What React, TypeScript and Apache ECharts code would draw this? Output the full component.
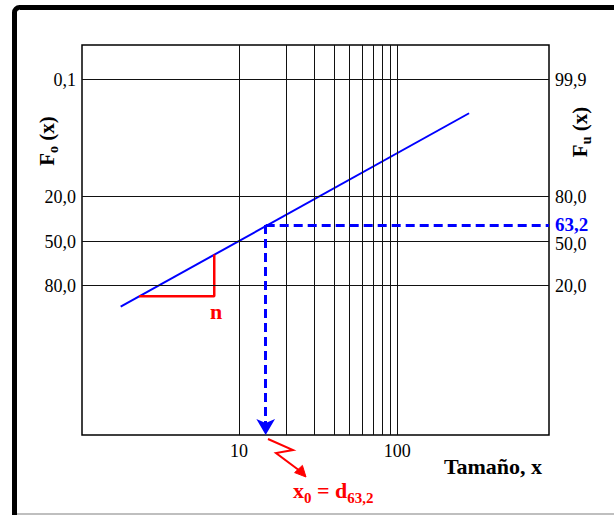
import React, { useEffect, useRef } from 'react';
import * as echarts from 'echarts';

// ---- data ----
const xMin = 1.02;
const xMax = 908;
const xGridValues = [10, 20, 30, 40, 50, 60, 70, 80, 90, 100];
const xTickLabels = [10, 100];

// vertical scale positions (schematic Rosin-Rammler scale, 0 = bottom, 100 = top)
const yLevels = [91.15, 61.1, 49.6, 38.3];
const foLabels = ['0,1', '20,0', '50,0', '80,0'];
const fuLabels = ['99,9', '80,0', '50,0', '20,0'];
const fuMarkPos = 53.85;
const fuMarkLabel = '63,2';

// fitted straight line
const fitLineX = [1.79, 284];
const fitLineY = [32.9, 82.5];

// slope triangle (n)
const slopeX = [2.34, 6.98, 6.98];
const slopeY = [35.6, 35.6, 46.3];

// characteristic size x0 = d63,2
const x0 = 14.75;

const FONT = 'Liberation Serif';
const RED = '#ff0000';
const BLUE = '#0000ff';

function labelFor(v: number, levels: number[], labels: string[]) {
  for (let i = 0; i < levels.length; i++) {
    if (Math.abs(levels[i] - v) < 0.01) return labels[i];
  }
  return '';
}

export default function App() {
  const ref = useRef<HTMLDivElement>(null);
  useEffect(() => {
    const chart = echarts.init(ref.current!, null, { renderer: 'svg' });
    const option: any = {
      animation: false,
      textStyle: { fontFamily: FONT },
      grid: {
        left: 82,
        top: 45,
        right: 65,
        bottom: 80,
        show: true,
        borderColor: '#000',
        borderWidth: 1.5,
        backgroundColor: 'transparent',
        containLabel: false,
      },
      xAxis: {
        type: 'log',
        logBase: 10,
        min: xMin,
        max: xMax,
        axisLine: { show: false },
        axisTick: { show: false },
        splitLine: { show: false },
        axisLabel: {
          customValues: xTickLabels,
          formatter: (v: number) => String(Math.round(v)),
          fontFamily: FONT,
          fontSize: 18,
          color: '#000',
          margin: 7,
        },
      },
      yAxis: [
        {
          type: 'value',
          min: 0,
          max: 100,
          position: 'left',
          axisLine: { show: false },
          axisTick: { show: false },
          splitLine: { show: false },
          axisLabel: {
            customValues: yLevels,
            formatter: (v: number) => labelFor(v, yLevels, foLabels),
            fontFamily: FONT,
            fontSize: 18,
            color: '#000',
            margin: 6,
          },
        },
        {
          type: 'value',
          min: 0,
          max: 100,
          position: 'right',
          axisLine: { show: false },
          axisTick: { show: false },
          splitLine: { show: false },
          axisLabel: {
            customValues: [...yLevels, fuMarkPos],
            formatter: (v: number) => {
              if (Math.abs(v - fuMarkPos) < 0.01) return '{b|' + fuMarkLabel + '}';
              const s = labelFor(v, yLevels, fuLabels);
              if (s === '50,0') return '{d|' + s + '}';
              return s;
            },
            fontFamily: FONT,
            fontSize: 18,
            color: '#000',
            margin: 6,
            rich: {
              b: { color: BLUE, fontWeight: 'bold', fontSize: 19, fontFamily: FONT },
              d: { color: '#000', fontSize: 18, fontFamily: FONT, padding: [4, 0, 0, 0] },
            },
          },
        },
      ],
      series: [
        {
          type: 'line',
          name: 'grid',
          data: [],
          z: 1,
          silent: true,
          markLine: {
            silent: true,
            symbol: ['none', 'none'],
            label: { show: false },
            lineStyle: { color: '#111', width: 1, type: 'solid' },
            emphasis: { disabled: true },
            data: [
              ...xGridValues.map((v) => ({ xAxis: v })),
              ...yLevels.map((v) => ({ yAxis: v })),
            ],
          },
        },
        {
          type: 'line',
          name: 'fit',
          z: 3,
          silent: true,
          showSymbol: false,
          symbol: 'none',
          lineStyle: { color: BLUE, width: 2 },
          data: fitLineX.map((x, i) => [x, fitLineY[i]]),
        },
        {
          type: 'line',
          name: 'slope',
          z: 3,
          silent: true,
          showSymbol: false,
          symbol: 'none',
          lineStyle: { color: RED, width: 2.5 },
          data: slopeX.map((x, i) => [x, slopeY[i]]),
        },
        {
          type: 'line',
          name: 'x0',
          data: [],
          z: 4,
          silent: true,
          markLine: {
            silent: true,
            label: { show: false },
            emphasis: { disabled: true },
            lineStyle: { color: BLUE, width: 3, type: [9, 5] },
            data: [
              [
                { coord: [x0, fuMarkPos], symbol: 'none' },
                { coord: [xMax, fuMarkPos], symbol: 'none' },
              ],
              [
                { coord: [x0, fuMarkPos], symbol: 'none' },
                { coord: [x0, 0], symbol: 'arrow', symbolSize: [14, 16] },
              ],
            ],
          },
        },
      ],
      graphic: [
        {
          type: 'rect',
          silent: true,
          z: 100,
          shape: { x: 14.5, y: 7.5, width: 700, height: 600, r: 5 },
          style: { fill: 'none', stroke: '#000', lineWidth: 5 },
        },
        {
          type: 'line',
          silent: true,
          shape: { x1: 17, y1: 514, x2: 614, y2: 514 },
          style: { stroke: '#aaa', lineWidth: 1.5 },
        },
        {
          type: 'text',
          silent: true,
          x: 47,
          y: 141,
          rotation: Math.PI / 2,
          style: {
            text: '{m|F}{s|o}{m| (x)}',
            align: 'center',
            verticalAlign: 'middle',
            rich: {
              m: { fontFamily: FONT, fontWeight: 'bold', fontSize: 21, fill: '#000', lineHeight: 26, verticalAlign: 'middle' },
              s: { fontFamily: FONT, fontWeight: 'bold', fontSize: 14, fill: '#000', lineHeight: 14, verticalAlign: 'bottom' },
            },
          },
        },
        {
          type: 'text',
          silent: true,
          x: 580,
          y: 132,
          rotation: Math.PI / 2,
          style: {
            text: '{m|F}{s|u}{m| (x)}',
            align: 'center',
            verticalAlign: 'middle',
            rich: {
              m: { fontFamily: FONT, fontWeight: 'bold', fontSize: 21, fill: '#000', lineHeight: 26, verticalAlign: 'middle' },
              s: { fontFamily: FONT, fontWeight: 'bold', fontSize: 14, fill: '#000', lineHeight: 14, verticalAlign: 'bottom' },
            },
          },
        },
        {
          type: 'text',
          silent: true,
          x: 493,
          y: 466,
          style: {
            text: 'Tamaño, x',
            align: 'center',
            verticalAlign: 'middle',
            fontFamily: FONT,
            fontWeight: 'bold',
            fontSize: 22,
            fill: '#000',
          },
        },
        {
          type: 'text',
          silent: true,
          x: 216,
          y: 311,
          style: {
            text: 'n',
            align: 'center',
            verticalAlign: 'middle',
            fontFamily: FONT,
            fontWeight: 'bold',
            fontSize: 22,
            fill: RED,
          },
        },
        {
          type: 'text',
          silent: true,
          x: 293,
          y: 490,
          style: {
            text: '{m|x}{s|0}{m| = d}{s|63,2}',
            align: 'left',
            verticalAlign: 'middle',
            rich: {
              m: { fontFamily: FONT, fontWeight: 'bold', fontSize: 22, fill: RED, lineHeight: 30, verticalAlign: 'middle' },
              s: { fontFamily: FONT, fontWeight: 'bold', fontSize: 15, fill: RED, lineHeight: 15, verticalAlign: 'bottom' },
            },
          },
        },
        {
          type: 'polyline',
          silent: true,
          shape: { points: [[268, 439], [293, 450], [276, 453], [300, 471]] },
          style: { stroke: RED, lineWidth: 2, fill: 'none' },
        },
        {
          type: 'polygon',
          silent: true,
          shape: { points: [[306, 477], [294.6, 472.6], [302.4, 465.4]] },
          style: { fill: RED, stroke: RED, lineWidth: 1 },
        },
      ],
    };
    chart.setOption(option);
    return () => chart.dispose();
  }, []);
  return (
    <div
      ref={ref}
      style={{ position: 'absolute', left: 0, top: 0, width: 614, height: 515 }}
    />
  );
}
